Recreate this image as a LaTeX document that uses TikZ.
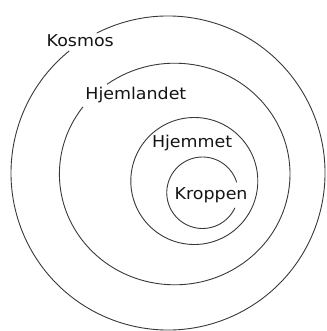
\documentclass[tikz,border=0pt]{standalone}
\usepackage{fontspec}
\setmainfont{DejaVu Sans}[FakeStretch=1.07]
\begin{document}
\begin{tikzpicture}[x=1pt,y=-1pt,
  ring/.style={draw=black!78,line width=0.9pt},
  lbl/.style={anchor=base west,inner sep=0pt,text=black!92,font=\fontsize{16.3}{19}\selectfont}]
\useasboundingbox (0,0) rectangle (326,331);
\coordinate (ck) at (168,173);
\coordinate (cl) at (174.7,174);
\coordinate (ch) at (194.3,181);
\coordinate (cr) at (202.5,192.75);
% Kosmos ring (gap for label)
\draw[ring] (ck) ++(-117:157) arc[start angle=-117,end angle=231,radius=157];
% Hjemlandet ring (gap for label)
\draw[ring] (cl) ++(-126:115.3 and 110.8) arc[start angle=-126,end angle=217.3,x radius=115.3,y radius=110.8];
% Hjemmet ring
\draw[ring] (ch) circle[radius=63.5];
% Kroppen ring (gap for label)
\draw[ring] (cr) ++(25:35.75) arc[start angle=25,end angle=343,radius=35.75];
\node[lbl] (kosmos) at (46.5,46.7) {Kosmos};
\node[lbl] (hjemlandet) at (85.2,100) {Hjemlandet};
\node[lbl] (hjemmet) at (151.8,147.3) {Hjemmet};
\node[lbl] (kroppen) at (174.5,199.3) {Kroppen};
\end{tikzpicture}
\end{document}
